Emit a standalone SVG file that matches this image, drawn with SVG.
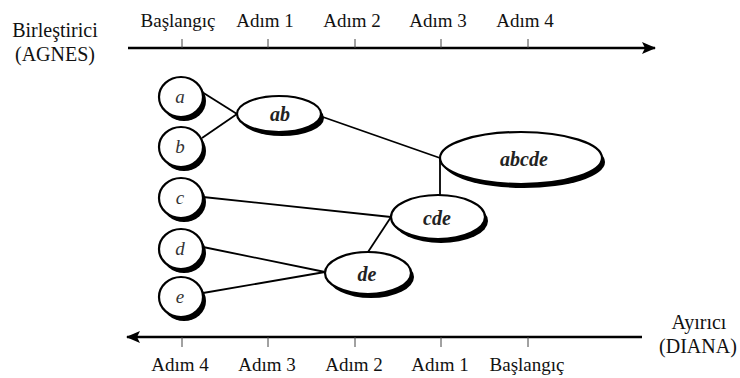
<svg xmlns="http://www.w3.org/2000/svg" width="740" height="378" viewBox="0 0 740 378">
  <defs>
    <style>
      .axis { stroke: #000; stroke-width: 2.5; fill: none; }
      .tick { stroke: #444; stroke-width: 1; }
      text { font-family: 'Liberation Serif', 'Times New Roman', serif; }
      .lbl { font-size: 19px; fill: #111; text-anchor: middle; }
      .side { font-size: 20px; fill: #111; text-anchor: middle; }
      .shadow { fill: #000; }
      .shape { fill: #fff; stroke: #000; stroke-width: 2.2; }
      .leaf { font-size: 19px; font-style: italic; fill: #333; text-anchor: middle; }
      .clus { font-size: 20px; font-style: italic; font-weight: bold; fill: #222; text-anchor: middle; }
      .edge { stroke: #000; stroke-width: 1.8; fill: none; }
    </style>
    <marker id="head" viewBox="0 0 14 12" refX="13" refY="6" markerWidth="14" markerHeight="12" markerUnits="userSpaceOnUse" orient="auto">
      <path d="M0,0 L14,6 L0,12 L3,6 Z" fill="#000"/>
    </marker>
  </defs>

  <!-- Agglomerative axis (top) -->
  <g id="axis-agnes">
    <text class="side" x="55" y="37">Birleştirici</text>
    <text class="side" x="55" y="61">(AGNES)</text>
    <line class="axis" x1="128" y1="48" x2="655" y2="48" marker-end="url(#head)"/>
    <line class="tick" x1="182" y1="39" x2="182" y2="48"/>
    <line class="tick" x1="268" y1="39" x2="268" y2="48"/>
    <line class="tick" x1="355" y1="39" x2="355" y2="48"/>
    <line class="tick" x1="441" y1="39" x2="441" y2="48"/>
    <line class="tick" x1="528" y1="39" x2="528" y2="48"/>
    <text class="lbl" x="178" y="27">Başlangıç</text>
    <text class="lbl" x="265" y="27">Adım 1</text>
    <text class="lbl" x="352" y="27">Adım 2</text>
    <text class="lbl" x="438" y="27">Adım 3</text>
    <text class="lbl" x="525" y="27">Adım 4</text>
  </g>

  <!-- Divisive axis (bottom) -->
  <g id="axis-diana">
    <text class="side" x="699" y="329">Ayırıcı</text>
    <text class="side" x="698" y="353">(DIANA)</text>
    <line class="axis" x1="642" y1="337" x2="127" y2="337" marker-end="url(#head)"/>
    <line class="tick" x1="182" y1="337" x2="182" y2="347"/>
    <line class="tick" x1="268" y1="337" x2="268" y2="347"/>
    <line class="tick" x1="355" y1="337" x2="355" y2="347"/>
    <line class="tick" x1="441" y1="337" x2="441" y2="347"/>
    <line class="tick" x1="528" y1="337" x2="528" y2="347"/>
    <text class="lbl" x="180" y="371">Adım 4</text>
    <text class="lbl" x="267" y="371">Adım 3</text>
    <text class="lbl" x="354" y="371">Adım 2</text>
    <text class="lbl" x="440" y="371">Adım 1</text>
    <text class="lbl" x="527" y="371">Başlangıç</text>
  </g>

  <!-- Connectors -->
  <g id="connectors">
    <line class="edge" x1="202" y1="92" x2="237" y2="114"/>
    <line class="edge" x1="202" y1="138" x2="237" y2="114"/>
    <line class="edge" x1="320" y1="116" x2="440" y2="158"/>
    <line class="edge" x1="440" y1="158" x2="440" y2="195"/>
    <line class="edge" x1="203" y1="197" x2="391" y2="217"/>
    <line class="edge" x1="391" y1="217" x2="368" y2="252"/>
    <line class="edge" x1="203" y1="247" x2="325" y2="272"/>
    <line class="edge" x1="203" y1="293" x2="325" y2="272"/>
  </g>

  <!-- Leaf objects -->
  <g id="node-a">
    <ellipse class="shadow" cx="184" cy="101" rx="22" ry="20"/>
    <ellipse class="shape" cx="181" cy="97" rx="22" ry="20"/>
    <text class="leaf" x="180" y="103">a</text>
  </g>
  <g id="node-b">
    <ellipse class="shadow" cx="184" cy="151" rx="22" ry="20"/>
    <ellipse class="shape" cx="181" cy="147" rx="22" ry="20"/>
    <text class="leaf" x="180" y="153">b</text>
  </g>
  <g id="node-c">
    <ellipse class="shadow" cx="184" cy="202" rx="22" ry="20"/>
    <ellipse class="shape" cx="181" cy="198" rx="22" ry="20"/>
    <text class="leaf" x="180" y="204">c</text>
  </g>
  <g id="node-d">
    <ellipse class="shadow" cx="184" cy="253" rx="22" ry="20"/>
    <ellipse class="shape" cx="181" cy="249" rx="22" ry="20"/>
    <text class="leaf" x="180" y="255">d</text>
  </g>
  <g id="node-e">
    <ellipse class="shadow" cx="184" cy="301" rx="22" ry="20"/>
    <ellipse class="shape" cx="181" cy="297" rx="22" ry="20"/>
    <text class="leaf" x="180" y="303">e</text>
  </g>

  <!-- Merged clusters -->
  <g id="node-ab">
    <ellipse class="shadow" cx="282" cy="118" rx="42" ry="18"/>
    <ellipse class="shape" cx="279" cy="114" rx="42" ry="18"/>
    <text class="clus" x="280" y="121">ab</text>
  </g>
  <g id="node-de">
    <ellipse class="shadow" cx="371" cy="277" rx="43" ry="21"/>
    <ellipse class="shape" cx="368" cy="273" rx="43" ry="21"/>
    <text class="clus" x="367" y="281">de</text>
  </g>
  <g id="node-cde">
    <ellipse class="shadow" cx="441" cy="221" rx="47" ry="22"/>
    <ellipse class="shape" cx="438" cy="217" rx="47" ry="22"/>
    <text class="clus" x="437" y="225">cde</text>
  </g>
  <g id="node-abcde">
    <ellipse class="shadow" cx="524" cy="162" rx="81" ry="26"/>
    <ellipse class="shape" cx="521" cy="158" rx="81" ry="26"/>
    <text class="clus" x="524" y="166">abcde</text>
  </g>
</svg>
